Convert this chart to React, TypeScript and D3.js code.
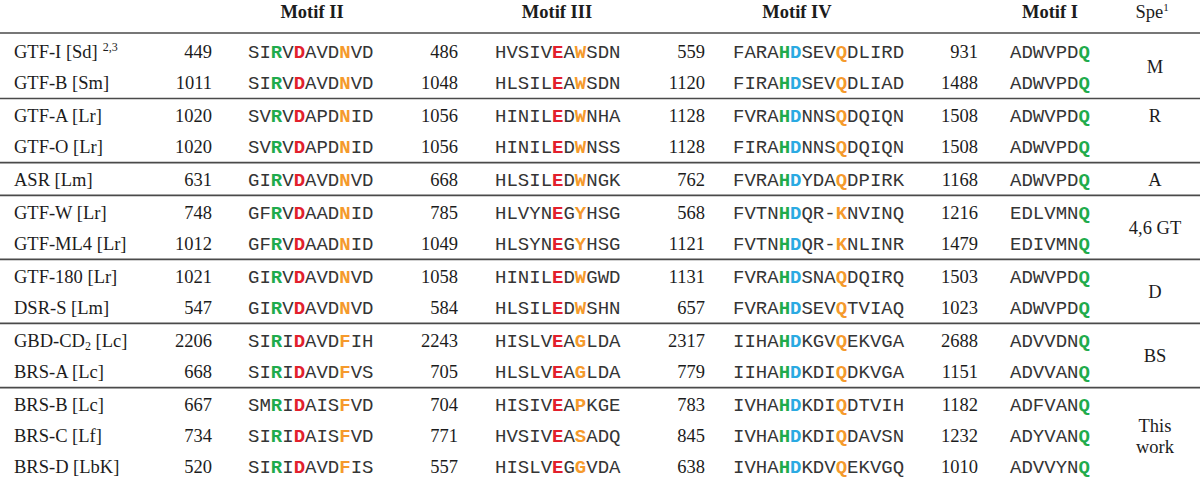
import React, { useEffect } from "react";
import * as d3 from "d3";

// ---------- data ----------
const names = [
  "GTF-I [Sd]", "GTF-B [Sm]", "GTF-A [Lr]", "GTF-O [Lr]", "ASR [Lm]",
  "GTF-W [Lr]", "GTF-ML4 [Lr]", "GTF-180 [Lr]", "DSR-S [Lm]",
  "GBD-CD_2 [Lc]", "BRS-A [Lc]", "BRS-B [Lc]", "BRS-C [Lf]", "BRS-D [LbK]",
];
const nameSup = ["2,3", "", "", "", "", "", "", "", "", "", "", "", "", ""];
const groups = [0, 0, 1, 1, 2, 3, 3, 4, 4, 5, 5, 6, 6, 6];

const pos2 = ["449", "1011", "1020", "1020", "631", "748", "1012", "1021", "547", "2206", "668", "667", "734", "520"];
const seq2 = [
  "SIRVDAVDNVD", "SIRVDAVDNVD", "SVRVDAPDNID", "SVRVDAPDNID", "GIRVDAVDNVD",
  "GFRVDAADNID", "GFRVDAADNID", "GIRVDAVDNVD", "GIRVDAVDNVD",
  "SIRIDAVDFIH", "SIRIDAVDFVS", "SMRIDAISFVD", "SIRIDAISFVD", "SIRIDAVDFIS",
];
const pos3 = ["486", "1048", "1056", "1056", "668", "785", "1049", "1058", "584", "2243", "705", "704", "771", "557"];
const seq3 = [
  "HVSIVEAWSDN", "HLSILEAWSDN", "HINILEDWNHA", "HINILEDWNSS", "HLSILEDWNGK",
  "HLVYNEGYHSG", "HLSYNEGYHSG", "HINILEDWGWD", "HLSILEDWSHN",
  "HISLVEAGLDA", "HLSLVEAGLDA", "HISIVEAPKGE", "HVSIVEASADQ", "HISLVEGGVDA",
];
const pos4 = ["559", "1120", "1128", "1128", "762", "568", "1121", "1131", "657", "2317", "779", "783", "845", "638"];
const seq4 = [
  "FARAHDSEVQDLIRD", "FIRAHDSEVQDLIAD", "FVRAHDNNSQDQIQN", "FIRAHDNNSQDQIQN", "FVRAHDYDAQDPIRK",
  "FVTNHDQR-KNVINQ", "FVTNHDQR-KNLINR", "FVRAHDSNAQDQIRQ", "FVRAHDSEVQTVIAQ",
  "IIHAHDKGVQEKVGA", "IIHAHDKDIQDKVGA", "IVHAHDKDIQDTVIH", "IVHAHDKDIQDAVSN", "IVHAHDKDVQEKVGQ",
];
const pos1 = ["931", "1488", "1508", "1508", "1168", "1216", "1479", "1503", "1023", "2688", "1151", "1182", "1232", "1010"];
const seq1 = [
  "ADWVPDQ", "ADWVPDQ", "ADWVPDQ", "ADWVPDQ", "ADWVPDQ",
  "EDLVMNQ", "EDIVMNQ", "ADWVPDQ", "ADWVPDQ",
  "ADVVDNQ", "ADVVANQ", "ADFVANQ", "ADYVANQ", "ADVVYNQ",
];

const headers = ["Motif II", "Motif III", "Motif IV", "Motif I"];
const speLabels = [["M"], ["R"], ["A"], ["4,6 GT"], ["D"], ["BS"], ["This", "work"]];
const speAnchorRow = [0.5, 2, 4, 5.5, 7.5, 9.5, 12];

// highlighted positions per motif: [index, colour key]
const hi2: [number, string][] = [[2, "green"], [4, "red"], [8, "orange"]];
const hi3: [number, string][] = [[5, "red"], [7, "orange"]];
const hi4: [number, string][] = [[4, "green"], [5, "cyan"], [9, "orange"]];
const hi1: [number, string][] = [[6, "green"]];

// ---------- style ----------
const COLORS: Record<string, string> = {
  green: "#1fab4c",
  red: "#e2202c",
  orange: "#f59a2c",
  cyan: "#2aaae2",
};
const W = 1200;
const H = 479;
const SERIF = "'Liberation Serif', 'Times New Roman', serif";
const MONO = "'Liberation Mono', 'Courier New', monospace";
const FS = 18.5;
const MFS = 19;
const TXT = "#1c1c1c";
const SEQ = "#353535";

const COL = {
  name: 14,
  n2: 212, s2: 248,
  n3: 458, s3: 495,
  n4: 705, s4: 733,
  n1: 978, s1: 1010,
  spe: 1155,
};
const headerX = [312, 557, 797, 1050];

const nRows = names.length;
const rowScale = d3.scaleLinear().domain([0, nRows - 1]).range([50.8, 50.8 + 31.3 * (nRows - 1)]);
const GROUP_GAP = 1.47;
const groupAt = (r: number) => groups[Math.min(nRows - 1, Math.max(0, Math.round(r)))];
const centerY = (r: number) => rowScale(r) + GROUP_GAP * groupAt(Math.floor(r));
const BASE = 6.8;

function Seq({ x, y, seq, hi }: { x: number; y: number; seq: string; hi: [number, string][] }) {
  const map = new Map(hi);
  return (
    <text x={x} y={y} fontFamily={MONO} fontSize={MFS} fill={SEQ} xmlSpace="preserve">
      {seq.split("").map((c, i) => {
        const col = map.get(i);
        return col ? (
          <tspan key={i} fill={COLORS[col]} fontWeight="bold">{c}</tspan>
        ) : (
          <tspan key={i}>{c}</tspan>
        );
      })}
    </text>
  );
}

function Name({ x, y, name, sup }: { x: number; y: number; name: string; sup: string }) {
  const parts = name.split(/_(\d)/);
  return (
    <text x={x} y={y} fontFamily={SERIF} fontSize={FS} fill={TXT} xmlSpace="preserve">
      {parts.map((p, i) =>
        i % 2 === 1 ? (
          <tspan key={i} fontSize={12} dy={3}>{p}</tspan>
        ) : (
          <tspan key={i} dy={i > 0 ? -3 : 0}>{p}</tspan>
        )
      )}
      {sup ? (
        <tspan fontSize={12} dx={5} dy={-7}>{sup}</tspan>
      ) : null}
    </text>
  );
}

export default function App() {
  useEffect(() => {
    document.body.style.margin = "0";
  }, []);

  // separator lines between groups
  const seps: number[] = [33];
  for (let i = 1; i < nRows; i++) {
    if (groups[i] !== groups[i - 1]) seps.push((centerY(i - 1) + centerY(i)) / 2);
  }

  return (
    <svg width={W} height={H} style={{ display: "block", background: "#fff" }}>
      {/* headers */}
      {headers.map((h, i) => (
        <text key={h} x={headerX[i]} y={17.5} textAnchor="middle" fontFamily={SERIF}
          fontSize={FS} fontWeight="bold" fill={TXT}>{h}</text>
      ))}
      <text x={1152} y={17.5} textAnchor="middle" fontFamily={SERIF} fontSize={FS} fill={TXT}>
        Spe<tspan fontSize={11} dy={-7}>1</tspan>
      </text>

      {/* separators */}
      {seps.map((y, i) => (
        <line key={i} x1={0} x2={W} y1={y} y2={y} stroke="#4a4a4a" strokeWidth={1.7} />
      ))}

      {/* rows */}
      {names.map((n, i) => {
        const y = centerY(i) + BASE;
        return (
          <g key={n}>
            <Name x={COL.name} y={y} name={n} sup={nameSup[i]} />
            <text x={COL.n2} y={y} textAnchor="end" fontFamily={SERIF} fontSize={FS} fill={TXT}>{pos2[i]}</text>
            <Seq x={COL.s2} y={y} seq={seq2[i]} hi={hi2} />
            <text x={COL.n3} y={y} textAnchor="end" fontFamily={SERIF} fontSize={FS} fill={TXT}>{pos3[i]}</text>
            <Seq x={COL.s3} y={y} seq={seq3[i]} hi={hi3} />
            <text x={COL.n4} y={y} textAnchor="end" fontFamily={SERIF} fontSize={FS} fill={TXT}>{pos4[i]}</text>
            <Seq x={COL.s4} y={y} seq={seq4[i]} hi={hi4} />
            <text x={COL.n1} y={y} textAnchor="end" fontFamily={SERIF} fontSize={FS} fill={TXT}>{pos1[i]}</text>
            <Seq x={COL.s1} y={y} seq={seq1[i]} hi={hi1} />
          </g>
        );
      })}

      {/* specificity labels */}
      {speLabels.map((lines, i) => {
        const c = centerY(speAnchorRow[i]);
        const lh = 21;
        const top = c - ((lines.length - 1) * lh) / 2;
        return (
          <text key={i} textAnchor="middle" fontFamily={SERIF} fontSize={FS} fill={TXT}>
            {lines.map((l, j) => (
              <tspan key={j} x={COL.spe} y={top + j * lh + BASE}>{l}</tspan>
            ))}
          </text>
        );
      })}
    </svg>
  );
}
